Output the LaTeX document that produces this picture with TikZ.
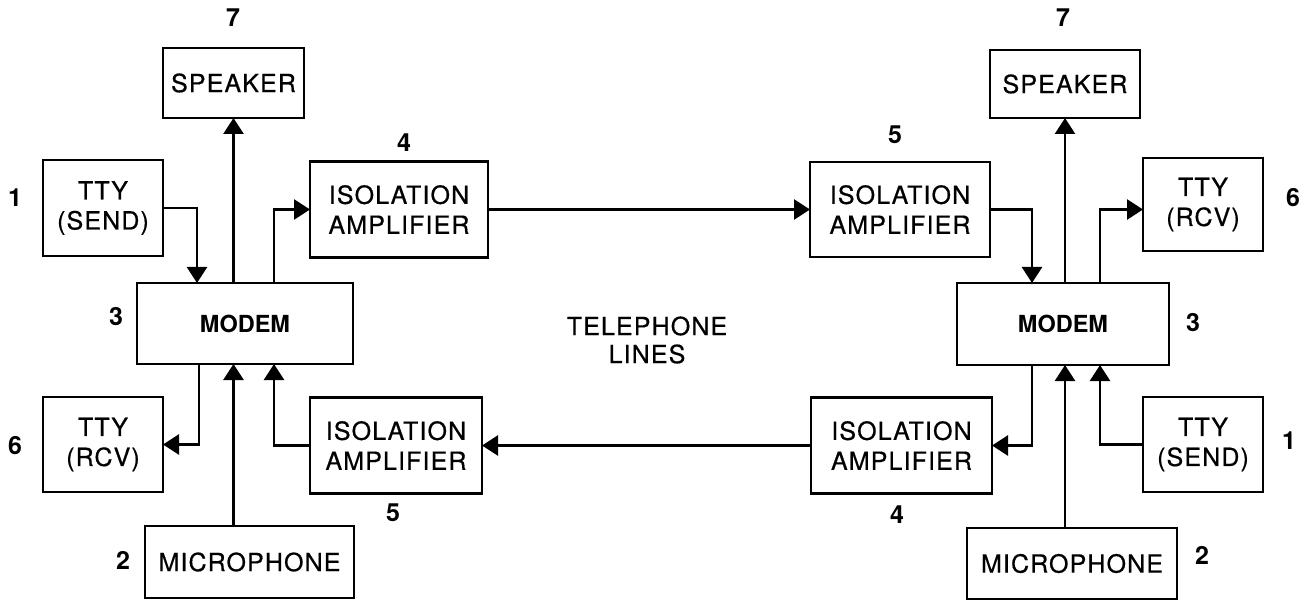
\documentclass[tikz,border=0pt]{standalone}
\usepackage{fontspec}
\setmainfont{TeX Gyre Heros}
\newfontfamily\lblfont{TeX Gyre Heros}[LetterSpace=4.5,FakeBold=0.6]
\newfontfamily\modfont{TeX Gyre Heros}[LetterSpace=0]
\usetikzlibrary{arrows.meta}
\begin{document}
\begin{tikzpicture}[x=1pt,y=-1pt,
  box/.style={draw, line width=2.6pt, inner sep=0pt, outer sep=0pt, align=center,
    font=\lblfont\fontsize{25}{30}\selectfont},
  modbox/.style={box, font=\modfont\bfseries\fontsize{23.5}{28}\selectfont},
  num/.style={font=\modfont\bfseries\fontsize{25}{27}\selectfont, inner sep=0pt},
  arr/.style={line width=2.6pt, -{Triangle[width=20pt,length=16pt]}},
  txt/.style={align=center, inner sep=0pt, font=\lblfont\fontsize{25}{28}\selectfont}]
\useasboundingbox (0,0) rectangle (1305,601);
% ---- left station
\node[box, minimum width=141pt, minimum height=70pt] (spkL) at (233.5,83) {SPEAKER};
\node[box, minimum width=120pt, minimum height=96pt] (ttysL) at (103,208) {TTY\\(SEND)};
\node[box, minimum width=178pt, minimum height=96pt] (isoL4) at (399,209.5) {ISOLATION\\AMPLIFIER};
\node[modbox, minimum width=216pt, minimum height=81pt] (modL) at (245,323.5) {MODEM};
\node[box, minimum width=120pt, minimum height=95pt] (ttyrL) at (103,444.5) {TTY\\(RCV)};
\node[box, minimum width=172pt, minimum height=96pt] (isoL5) at (396,445.5) {ISOLATION\\AMPLIFIER};
\node[box, minimum width=209pt, minimum height=72pt] (micL) at (249.5,562) {MICROPHONE};
% ---- right station
\node[box, minimum width=150pt, minimum height=68pt] (spkR) at (1065,84) {SPEAKER};
\node[box, minimum width=180pt, minimum height=95pt] (isoR5) at (900,209.5) {ISOLATION\\AMPLIFIER};
\node[box, minimum width=120pt, minimum height=93pt] (ttyrR) at (1203,204.5) {TTY\\(RCV)};
\node[modbox, minimum width=212pt, minimum height=82pt] (modR) at (1063,324) {MODEM};
\node[box, minimum width=181pt, minimum height=96pt] (isoR4) at (901.5,445.5) {ISOLATION\\AMPLIFIER};
\node[box, minimum width=120pt, minimum height=95pt] (ttysR) at (1203,444.5) {TTY\\(SEND)};
\node[box, minimum width=210pt, minimum height=71pt] (micR) at (1072,563.5) {MICROPHONE};
% ---- centre label
\node[txt] (tel) at (647,340) {TELEPHONE\\LINES};
% ---- numbers
\node[num] (nL7) at (233,18) {7};
\node[num] (nL4) at (404,143) {4};
\node[num] (nL1) at (15,198) {1};
\node[num] (nL3) at (116,317) {3};
\node[num] (nL6) at (15,446) {6};
\node[num] (nL5) at (393,513) {5};
\node[num] (nL2) at (123,560) {2};
\node[num] (nR7) at (1063,18) {7};
\node[num] (nR5) at (895,135) {5};
\node[num] (nR6) at (1293,198) {6};
\node[num] (nR3) at (1193,323) {3};
\node[num] (nR1) at (1289,441) {1};
\node[num] (nR4) at (897,515) {4};
\node[num] (nR2) at (1202,555) {2};
% ---- left connectors
\draw[arr] (ttysL.east) -| ([xshift=-48pt]modL.north);
\draw[arr] (modL.north -| spkL.south) -- (spkL.south);
\draw[arr] ([xshift=29pt]modL.north) |- (isoL4.west);
\draw[arr] ([xshift=-46pt]modL.south) |- (ttyrL.east);
\draw[arr] (micL.north -| spkL.south) -- (modL.south -| spkL.south);
\draw[arr] (isoL5.west) -| ([xshift=29pt]modL.south);
% ---- telephone lines
\draw[arr] (isoL4.east) -- (isoR5.west);
\draw[arr] (isoR4.west) -- (isoL5.east);
% ---- right connectors
\draw[arr] (isoR5.east) -| ([xshift=-31pt]modR.north);
\draw[arr] (modR.north -| spkR.south) -- (spkR.south);
\draw[arr] ([xshift=37pt]modR.north) |- ([yshift=-5pt]ttyrR.west);
\draw[arr] ([xshift=-31pt]modR.south) |- (isoR4.east);
\draw[arr] (micR.north -| spkR.south) -- (modR.south -| spkR.south);
\draw[arr] (ttysR.west) -| ([xshift=37pt]modR.south);
\end{tikzpicture}
\end{document}
